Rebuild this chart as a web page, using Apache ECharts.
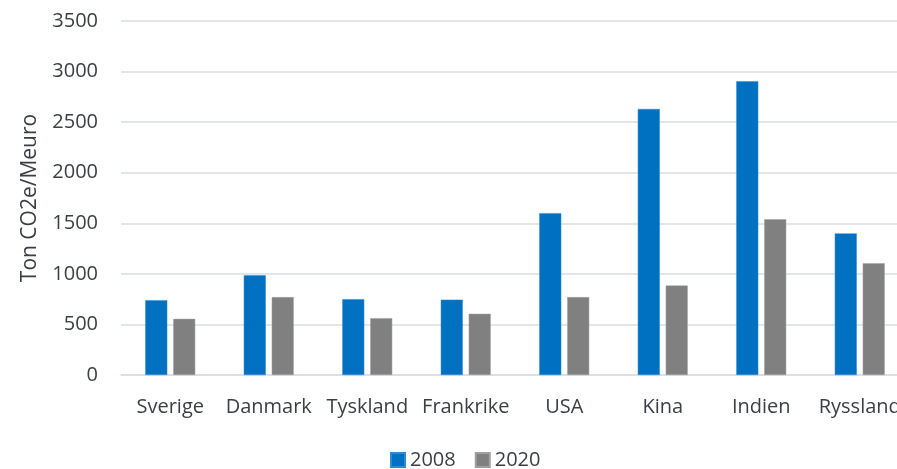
<!DOCTYPE html>
<html><head><meta charset="utf-8">
<script src="https://cdn.jsdelivr.net/npm/echarts@6/dist/echarts.min.js"></script>
<style>html,body{margin:0;padding:0;background:#fff}#c{width:897px;height:469px}</style>
</head><body><div id="c"></div>
<script>
const categories = ["Sverige","Danmark","Tyskland","Frankrike","USA","Kina","Indien","Ryssland"];
const values2008 = [740, 985, 750, 745, 1600, 2630, 2905, 1400];
const values2020 = [555, 770, 562, 605, 770, 885, 1540, 1105];
const yTicks = [0, 500, 1000, 1500, 2000, 2500, 3000, 3500];

const font = "'Open Sans', sans-serif";
const txt = '#3B3F44';
const chart = echarts.init(document.getElementById('c'));
chart.setOption({
  animation: false,
  textStyle: {fontFamily: font},
  grid: {left: 121, width: 788, top: 21, bottom: 94, containLabel: false, outerBoundsMode: 'none'},
  legend: {
    top: 445, left: 385, itemWidth: 14, itemHeight: 14, itemGap: 19,
    icon: 'rect',
    textStyle: {fontFamily: font, fontSize: 20, color: txt},
    data: ['2008','2020']
  },
  xAxis: {
    type: 'category', data: categories,
    axisLine: {lineStyle: {color: '#D9DEE3', width: 1.5}},
    axisTick: {show: false},
    axisLabel: {fontFamily: font, fontSize: 20, color: txt, margin: 22, interval: 0}
  },
  yAxis: {
    type: 'value', min: yTicks[0], max: yTicks[yTicks.length-1], interval: 500,
    name: 'Ton CO2e/Meuro', nameLocation: 'middle', nameGap: 80,
    nameTextStyle: {fontFamily: font, fontSize: 21, color: txt},
    axisLine: {show: false}, axisTick: {show: false},
    axisLabel: {fontFamily: font, fontSize: 20, color: txt, margin: 23,
      formatter: v => String(v)},
    splitLine: {lineStyle: {color: '#D9DEE3', width: 1.5}}
  },
  series: [
    {name: '2008', type: 'bar', data: values2008, barWidth: 22, barGap: '27%',
     itemStyle: {color: '#0070C0', borderColor: '#2E8AD6', borderWidth: 0.5}},
    {name: '2020', type: 'bar', data: values2020, barWidth: 22,
     itemStyle: {color: '#808080', borderColor: '#A0A0A0', borderWidth: 0.5}}
  ]
});
</script></body></html>
